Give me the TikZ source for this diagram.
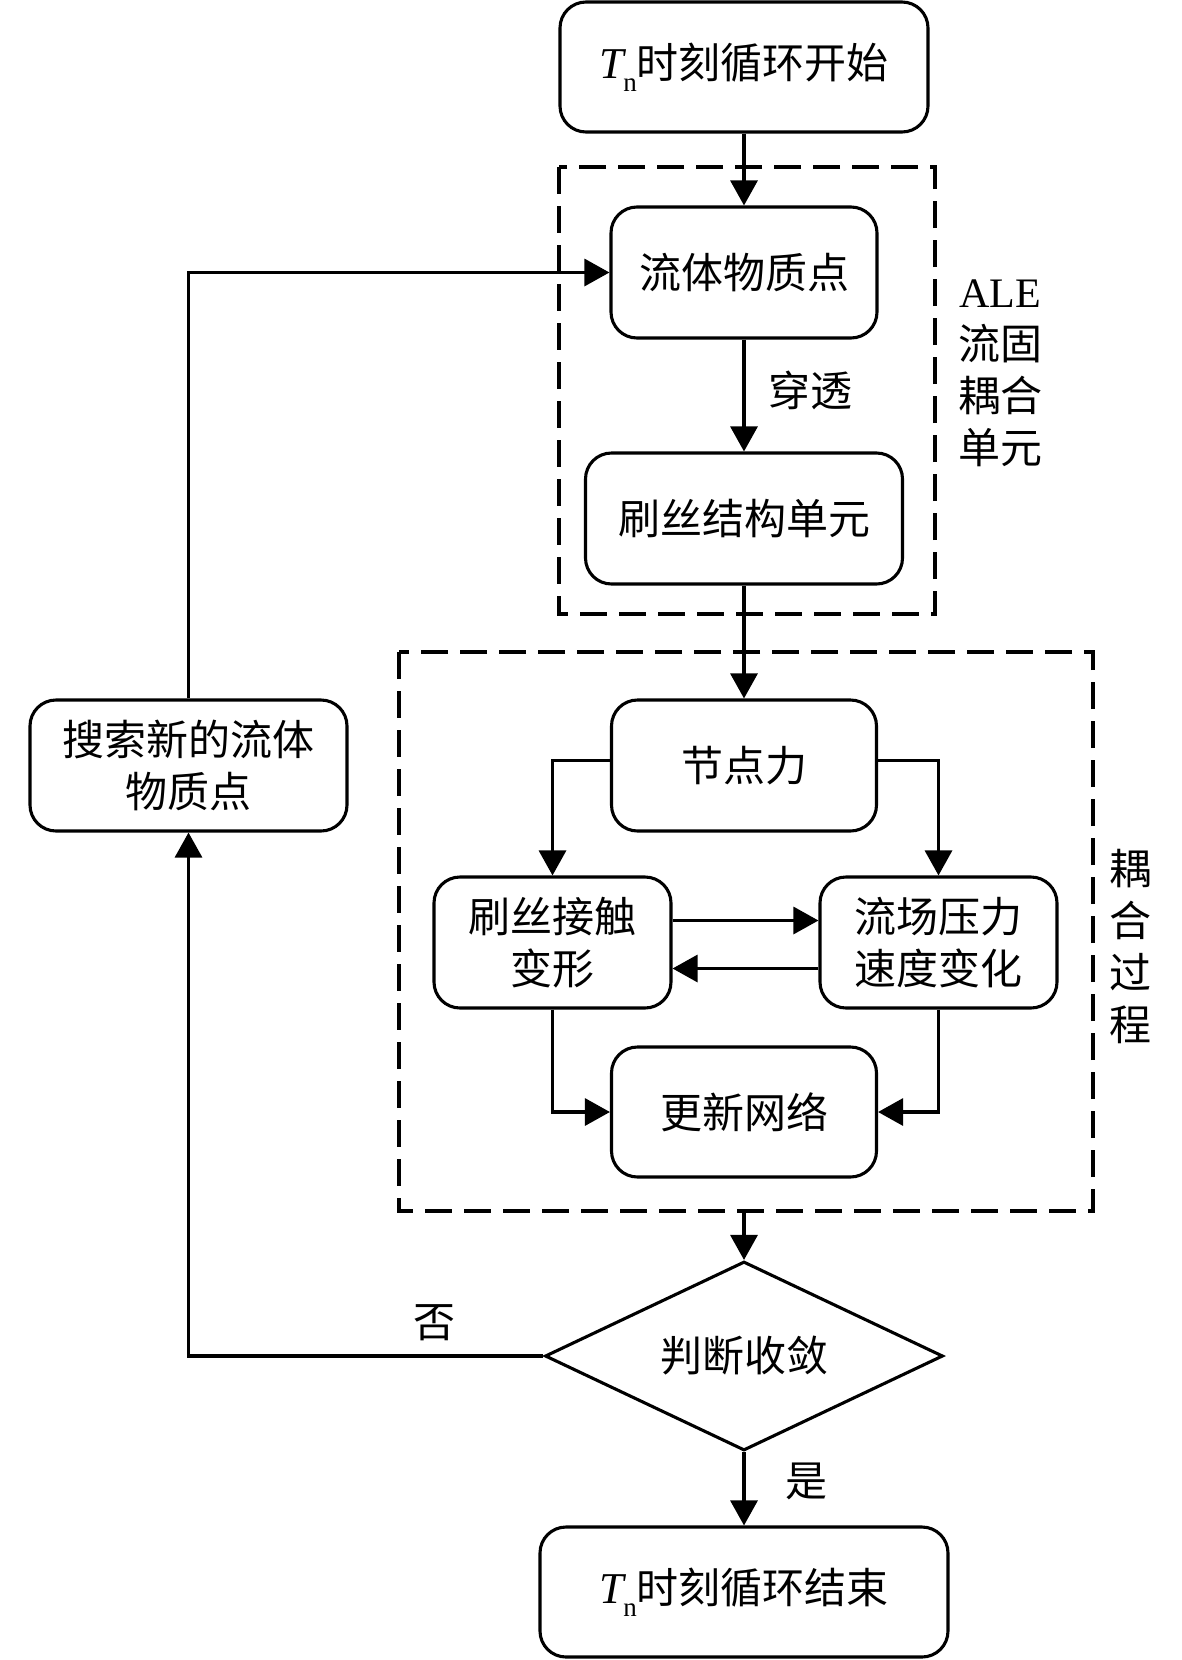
\documentclass[tikz,border=0pt]{standalone}
\usepackage{fontspec}
\setmainfont{Liberation Serif}
\newfontfamily\cjk{Noto Sans CJK SC}
\usetikzlibrary{arrows.meta,shapes.geometric}
\newcommand{\Tn}{{\rmfamily\itshape\fontsize{44}{52}\selectfont T}\raisebox{-0.32em}{\rmfamily\fontsize{27}{27}\selectfont n}}
\begin{document}
\begin{tikzpicture}[x=1pt,y=-1pt,
  box/.style={draw,line width=3.1pt,rounded corners=26pt,inner sep=0pt,align=center,font=\cjk\fontsize{42}{52}\selectfont},
  arr/.style={line width=3.1pt,-{Triangle[length=25pt,width=27pt]}},
  grp/.style={draw,line width=3.1pt,dash pattern=on 27pt off 12pt},
  lbl/.style={font=\cjk\fontsize{42}{52}\selectfont,inner sep=0pt,align=center}]
\useasboundingbox (0,0) rectangle (1181,1660);
% groups
\draw[grp] (559,167) rectangle (935,614);
\draw[grp] (399,652) rectangle (1093,1211);
% nodes
\node[box,minimum width=368pt,minimum height=130pt] (start) at (744,67) {\Tn 时刻循环开始};
\node[box,minimum width=266pt,minimum height=131pt] (fluid) at (744,272.5) {流体物质点};
\node[box,minimum width=317pt,minimum height=131pt] (brush) at (744,518.5) {刷丝结构单元};
\node[box,minimum width=265pt,minimum height=131pt] (force) at (744,765.5) {节点力};
\node[box,minimum width=237pt,minimum height=131pt] (contact) at (552.5,942.5) {刷丝接触\\变形};
\node[box,minimum width=237pt,minimum height=131pt] (flow) at (938.5,942.5) {流场压力\\速度变化};
\node[box,minimum width=265pt,minimum height=130pt] (mesh) at (744,1112) {更新网络};
\node[draw,diamond,aspect=2.1,line width=3.1pt,inner sep=0pt,minimum width=398pt,minimum height=189pt,font=\cjk\fontsize{42}{52}\selectfont] (dia) at (744,1356) {判断收敛};
\node[box,minimum width=408pt,minimum height=130pt] (end) at (744,1592) {\Tn 时刻循环结束};
\node[box,minimum width=317pt,minimum height=131pt] (search) at (188.5,765.5) {搜索新的流体\\物质点};
% labels
\node[lbl] (lpen) at (810,390) {穿透};
\node[lbl] (lale) at (1000,373) {{\rmfamily ALE}\\流固\\耦合\\单元};
\node[lbl] (lcoup) at (1130,946) {耦\\合\\过\\程};
\node[lbl] (lno) at (434,1323) {否};
\node[lbl] (lyes) at (806,1481) {是};
% connectors
\coordinate (g2b) at (744,1211);
\draw[arr] (start) -- (fluid);
\draw[arr] (fluid) -- (brush);
\draw[arr] (brush) -- (force);
\draw[arr] ([yshift=5pt]force.west) -| (contact.north);
\draw[arr] ([yshift=5pt]force.east) -| (flow.north);
\draw[arr] ([yshift=22pt]contact.east) -- ([yshift=22pt]flow.west);
\draw[arr] ([yshift=-26pt]flow.west) -- ([yshift=-26pt]contact.east);
\draw[arr] (contact.south) |- (mesh.west);
\draw[arr] (flow.south) |- (mesh.east);
\draw[arr] (g2b) -- (dia.north);
\draw[arr] (dia.south) -- (end.north);
\draw[arr] (dia.west) -| (search.south);
\draw[arr] (search.north) |- (fluid.west);
\end{tikzpicture}
\end{document}
